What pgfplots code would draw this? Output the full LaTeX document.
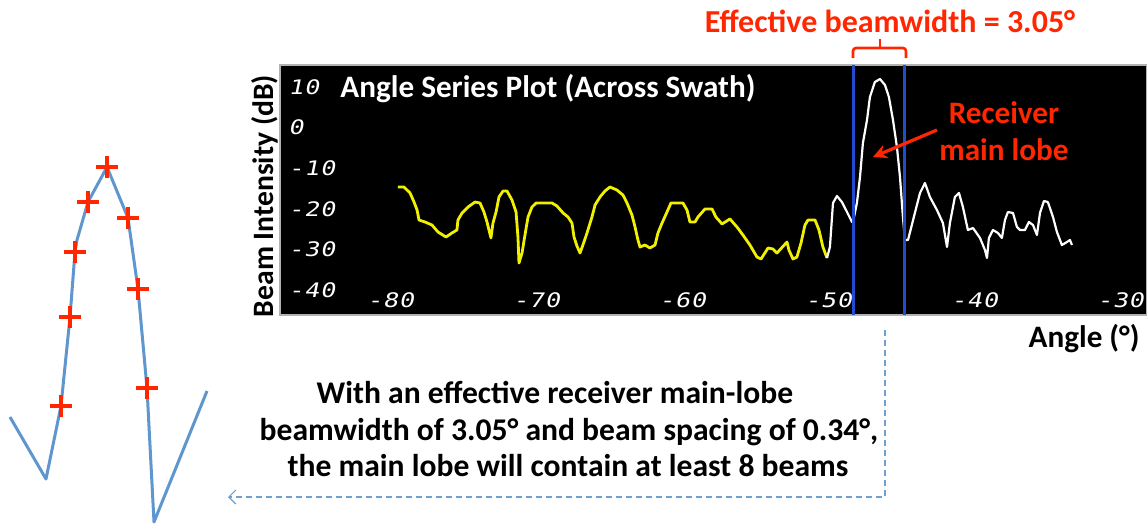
\documentclass[border=0pt]{standalone}
\usepackage{fontspec}
\setmainfont{Carlito}
\newfontfamily\tickfont[FakeStretch=1.25,FakeSlant=0.2,LetterSpace=4]{DejaVu Sans Mono}
\usepackage{pgfplots}
\usepackage{pgfplotstable}
\pgfplotsset{compat=1.18}
\usetikzlibrary{arrows.meta}
\definecolor{redtxt}{RGB}{255,38,0}
\definecolor{beamblue}{RGB}{35,75,205}
\definecolor{dashblue}{RGB}{110,160,210}
\definecolor{lobeblue}{RGB}{95,150,205}
\definecolor{ylw}{RGB}{240,240,0}

\pgfplotstableread{
x y
-79.49 -14.63
-79.08 -14.63
-78.66 -16.11
-78.39 -18.33
-78.18 -20.30
-78.05 -22.76
-77.64 -23.25
-77.16 -23.99
-76.75 -25.71
-76.20 -26.95
-75.79 -25.96
-75.45 -25.22
-75.38 -22.76
-75.10 -21.03
-74.69 -19.56
-74.21 -18.33
-73.87 -18.57
-73.60 -20.79
-73.39 -23.25
-73.12 -27.19
-72.98 -23.50
-72.77 -20.79
-72.57 -17.09
-72.29 -15.62
-72.02 -15.62
-71.68 -17.83
-71.40 -20.79
-71.27 -26.95
-71.20 -33.35
-70.99 -30.89
-70.79 -26.45
-70.58 -22.02
-70.31 -19.56
-70.03 -18.57
-68.94 -18.57
-68.60 -19.31
-68.18 -21.03
-67.84 -22.02
-67.57 -23.50
-67.43 -26.95
-67.23 -29.16
-67.02 -30.89
-66.82 -28.92
-66.54 -25.96
-66.20 -22.02
-65.99 -19.06
-65.65 -17.09
-65.31 -15.62
-64.97 -14.63
-64.49 -15.37
-64.08 -16.60
-63.80 -18.57
-63.46 -21.53
-63.25 -24.48
-63.05 -27.68
-62.91 -29.41
-62.57 -28.92
-62.23 -29.66
-61.88 -28.92
-61.68 -25.96
-61.40 -23.50
-61.06 -20.79
-60.79 -18.57
-59.97 -18.57
-59.69 -20.30
-59.49 -23.25
-59.14 -23.25
-58.94 -22.02
-58.46 -20.05
-57.98 -20.05
-57.71 -22.02
-57.29 -23.74
-56.75 -22.51
-56.27 -24.48
-55.86 -26.45
-55.38 -28.92
-54.90 -31.87
-54.62 -32.36
-54.14 -29.66
-53.80 -29.90
-53.53 -30.89
-52.84 -28.18
-52.71 -30.15
-52.43 -32.36
-52.16 -31.87
-51.88 -28.42
-51.61 -23.99
-51.40 -22.76
-50.92 -22.76
-50.65 -25.22
-50.38 -29.41
-50.10 -32.12
}\yellowdata

\pgfplotstableread{
x y
-50.10 -32.12
-49.90 -29.41
-49.69 -18.57
-49.42 -16.85
-49.08 -18.33
-48.73 -20.79
-48.39 -23.25
-48.25 -22.02
-48.05 -18.57
-47.84 -12.17
-47.64 -3.79
-47.36 1.87
-47.16 7.54
-46.82 11.23
-46.47 11.97
-46.13 10.49
-45.86 7.54
-45.58 1.87
-45.31 -4.78
-45.10 -12.17
-44.90 -22.02
-44.76 -27.68
-44.55 -27.68
-44.08 -21.03
-43.73 -16.11
-43.39 -13.65
-43.05 -17.09
-42.57 -20.30
-42.16 -23.50
-41.88 -29.41
-41.68 -23.50
-41.34 -17.09
-41.06 -16.11
-40.79 -19.56
-40.45 -25.22
-40.10 -24.73
-39.62 -27.19
-39.28 -30.15
-39.14 -32.12
-39.01 -27.19
-38.73 -25.22
-38.39 -25.96
-38.12 -27.19
-37.91 -22.76
-37.71 -20.79
-37.36 -21.03
-37.09 -24.48
-36.88 -25.22
-36.54 -25.22
-36.27 -23.25
-35.99 -23.99
-35.72 -26.45
-35.51 -21.03
-35.24 -18.08
-34.97 -18.33
-34.62 -22.02
-34.35 -25.71
-34.01 -28.92
-33.66 -28.18
-33.46 -27.68
-33.32 -28.92
}\whitedata

\pgfplotstableread{
x y
10 417
46 479
61 406
70 317
75 252
77 240
88 202
107 167
128 218
138 289
147 388
154 522
207 391
}\insetline

\pgfplotstableread{
x y
61 406
70 317
75 252
88 202
107 167
128 218
138 289
147 388
}\insetmarks

\begin{document}
\begin{tikzpicture}
\begin{axis}[
  at={(140pt,-32.5pt)}, anchor=north west,
  scale only axis, width=433.5pt, height=125pt,
  xmin=-87.57, xmax=-28.18, ymin=-46.16, ymax=15.42,
  axis background/.style={fill=black},
  axis line style={draw=gray!60, line width=0.6pt},
  xtick={-80,-70,-60,-50,-40,-30},
  xticklabels={-80,-70,-60,-50,-40,-30},
  ytick={-40,-30,-20,-10,0,10},
  yticklabels={-40,-30,-20,-10,0,10},
  major tick length=0pt,
  tick style={draw=none},
  xticklabel style={anchor=center, yshift=7.5pt, inner sep=0pt},
  yticklabel style={anchor=west, xshift=4pt, inner sep=0pt},
  ticklabel style={font=\tickfont\fontsize{10}{10}\selectfont, text=white},
]
\addplot[ylw, line width=1.4pt, line join=round] table[x=x,y=y] {\yellowdata};
\addplot[white, line width=1.1pt, line join=round] table[x=x,y=y] {\whitedata};
\end{axis}

\begin{axis}[
  at={(0pt,0pt)}, anchor=north west,
  scale only axis, width=573.5pt, height=262.5pt,
  xmin=0, xmax=1147, ymin=0, ymax=525, y dir=reverse,
  hide axis, clip=false,
]
\addplot[lobeblue, line width=1.5pt, line join=round] table[x=x,y=y] {\insetline};
\addplot[only marks, mark=+, mark size=5.5pt, mark options={line width=1.6pt, draw=redtxt}] table[x=x,y=y] {\insetmarks};

\draw[beamblue, line width=1.5pt] (axis cs:853,65) -- (axis cs:853,315);
\draw[beamblue, line width=1.5pt] (axis cs:904,65) -- (axis cs:904,315);
\draw[redtxt, line width=1.3pt, rounded corners=1.5pt] (axis cs:853,58) -- (axis cs:853,48) -- (axis cs:906,48) -- (axis cs:906,58);
\draw[redtxt, line width=1.3pt] (axis cs:880,48) -- (axis cs:880,39);
\draw[redtxt, line width=1.6pt, -{Stealth[length=7pt,width=7pt]}] (axis cs:937,130) -- (axis cs:873,157);
\draw[dashblue, line width=0.6pt, dash pattern=on 3pt off 2pt, -{Straight Barb[length=3.5pt,width=7pt]}] (axis cs:885,330) -- (axis cs:885,497) -- (axis cs:228,497);

\node[anchor=base, text=redtxt, font=\bfseries\fontsize{16}{18}\selectfont, inner sep=0pt] at (axis cs:890,32) {Effective beamwidth = 3.05°};
\node[anchor=base west, text=white, font=\bfseries\fontsize{15.6}{18}\selectfont, inner sep=0pt] at (axis cs:340,97) {Angle Series Plot (Across Swath)};
\node[anchor=base, text=redtxt, font=\bfseries\fontsize{15.6}{18}\selectfont, inner sep=0pt] at (axis cs:1004,123) {Receiver};
\node[anchor=base, text=redtxt, font=\bfseries\fontsize{15.6}{18}\selectfont, inner sep=0pt] at (axis cs:1004,160) {main lobe};
\node[anchor=base east, font=\bfseries\fontsize{15.6}{18}\selectfont, inner sep=0pt] at (axis cs:1140,347) {Angle (°)};
\node[rotate=90, anchor=base, font=\bfseries\fontsize{14.8}{17}\selectfont, inner sep=0pt] at (axis cs:273,196) {Beam Intensity (dB)};
\node[anchor=base, font=\bfseries\fontsize{15.8}{18}\selectfont, inner sep=0pt] at (axis cs:555,403) {With an effective receiver main-lobe};
\node[anchor=base, font=\bfseries\fontsize{15.8}{18}\selectfont, inner sep=0pt] at (axis cs:569,440) {beamwidth of 3.05° and beam spacing of 0.34°,};
\node[anchor=base, font=\bfseries\fontsize{15.8}{18}\selectfont, inner sep=0pt] at (axis cs:568,476) {the main lobe will contain at least 8 beams};
\end{axis}
\pgfresetboundingbox
\useasboundingbox (0pt,0pt) rectangle (573.5pt,-262.5pt);
\end{tikzpicture}
\end{document}
